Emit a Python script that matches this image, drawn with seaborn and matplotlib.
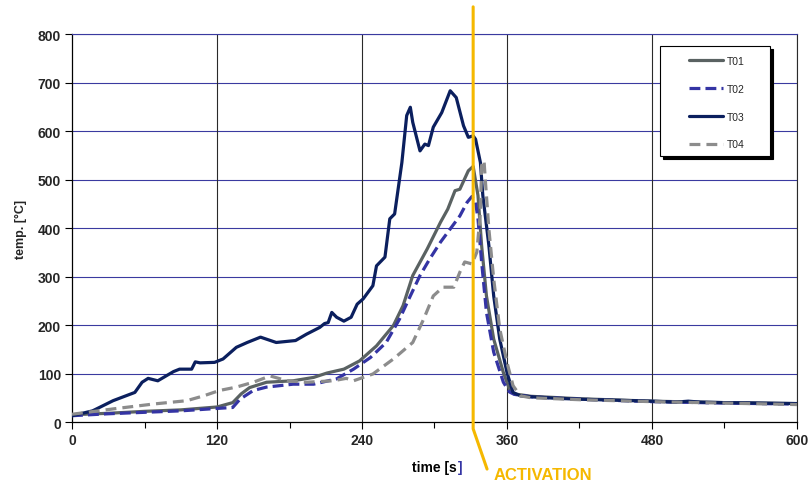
import matplotlib
matplotlib.use("Agg")
import matplotlib.pyplot as plt
import matplotlib.transforms as mtransforms
from matplotlib.patches import Rectangle
import seaborn as sns
import pandas as pd
from matplotlib.ticker import MultipleLocator

# ---- data ----
t01_t = [0,30,60,90,120,133,140,147,161,183,200,211,225,238,252,266,274,282,294,305,311,317,321,328,332,336,339,343,349,357,362,366,380,420,480,540,600]
t01_v = [15,18,22,25,31,40,58,71,82,85,92,101,109,126,157,199,240,302,357,412,439,477,480,518,527,467,364,260,171,102,68,58,53,48,43,40,38]

t02_t = [0,30,60,90,120,133,139,150,161,183,200,219,233,247,260,271,280,288,296,305,313,321,327,331,334,336,339,343,349,357,362,366,380,420,480,540,600]
t02_v = [13,17,20,23,28,30,47,65,72,78,78,89,109,133,164,212,260,302,336,371,398,425,453,465,453,419,330,226,144,82,62,57,52,47,42,39,37]

t03_t = [0,17,34,52,58,63,71,84,89,99,102,106,118,125,136,145,156,169,185,194,205,209,212,215,219,225,231,236,241,249,252,259,263,267,273,277,280,282,288,292,295,299,306,313,318,324,328,332,334,338,340,345,349,354,360,365,371,380,400,420,450,480,500,510,520,540,570,600]
t03_v = [13,23,44,61,82,90,85,104,109,109,124,122,123,130,154,164,175,164,168,181,195,203,205,226,216,208,216,243,254,281,322,340,419,429,535,632,649,618,559,573,570,608,638,683,669,611,587,590,583,535,467,364,260,171,102,61,54,52,49,47,45,43,41,43,41,40,39,38]

t04_t = [0,34,67,95,109,122,136,150,164,178,194,216,227,233,249,266,282,291,299,307,316,321,325,331,335,338,339,341,342,345,349,354,360,365,371,380,420,480,540,600]
t04_v = [16,27,37,44,54,65,72,82,95,85,82,85,90,85,99,130,164,212,260,278,278,309,330,326,350,432,529,539,501,398,295,192,123,75,54,50,46,42,39,36]

series_names = ["T01", "T02", "T03", "T04"]
x_ticks = [0, 120, 240, 360, 480, 600]
y_ticks = [0, 100, 200, 300, 400, 500, 600, 700, 800]
activation_time = 332

sns.set_theme(style="white")
plt.rcParams["font.family"] = ["Liberation Sans", "DejaVu Sans"]

fig = plt.figure(figsize=(8.11, 4.85), dpi=100)
ax = fig.add_axes([0.0888, 0.1278, 0.8939, 0.8])

frames = []
for name, tt, vv in zip(series_names, [t01_t, t02_t, t03_t, t04_t], [t01_v, t02_v, t03_v, t04_v]):
    frames.append(pd.DataFrame({"time": tt, "temp": vv, "sensor": name}))
df = pd.concat(frames, ignore_index=True)

styles = {
    "T01": dict(color="#5a6262", dashes=None),
    "T02": dict(color="#3434a4", dashes=(3.4, 1.6)),
    "T03": dict(color="#0b1f5e", dashes=None),
    "T04": dict(color="#8c8c8c", dashes=(3.4, 1.9)),
}

# grid
for yv in y_ticks[1:]:
    ax.axhline(yv, color="#3a3aa0", lw=0.8, zorder=1)
for xv in x_ticks[1:]:
    ax.axvline(xv, color="#2a2a2a", lw=0.8, zorder=1)

for name in series_names:
    sub = df[df["sensor"] == name]
    st = styles[name]
    sns.lineplot(data=sub, x="time", y="temp", ax=ax, color=st["color"], lw=2.3,
                 estimator=None, sort=False, label=name, zorder=3)
    line = ax.lines[-1]
    if st["dashes"] is not None:
        line.set_dashes(st["dashes"])
    line.set_solid_capstyle("round")
    line.set_dash_capstyle("butt")

ax.set_xlim(0, 600)
ax.set_ylim(0, 800)
ax.set_xticks(x_ticks)
ax.set_yticks(y_ticks)
ax.xaxis.set_minor_locator(MultipleLocator(60))
ax.tick_params(axis="both", which="major", direction="out", length=5, width=0.8,
               color="black", labelsize=10, bottom=True, left=True, pad=3)
ax.tick_params(axis="x", which="minor", direction="out", length=4, width=0.8,
               color="black", bottom=True)
for lab in ax.get_xticklabels() + ax.get_yticklabels():
    lab.set_fontweight("bold")

for side in ["left", "bottom"]:
    ax.spines[side].set_color("black")
    ax.spines[side].set_linewidth(0.9)
ax.spines["top"].set_color("#3a3aa0")
ax.spines["top"].set_linewidth(0.8)
ax.spines["right"].set_color("#2a2a2a")
ax.spines["right"].set_linewidth(0.8)

ax.set_xlabel("")
ax.set_ylabel("temp. [°C]", fontsize=9, fontweight="bold", labelpad=8)

# x label: "time [s" in black, "]" in blue
xl = ax.text(0.4695, -0.116, "time [s", transform=ax.transAxes, fontsize=10,
             fontweight="bold", color="black", ha="left", va="center")
ax.annotate("]", xy=(1, 0), xycoords=xl, xytext=(0.3, 0), textcoords="offset points",
            fontsize=10, fontweight="bold", color="#3434a4", ha="left", va="bottom")

# activation marker
ax.plot([activation_time, activation_time, 343.5], [856, -14, -97], color="#f5b800",
        lw=2.2, clip_on=False, zorder=5, solid_joinstyle="miter")
ax.text(348.5, -109, "ACTIVATION", color="#f5b800", fontsize=12, fontweight="bold",
        ha="left", va="center", clip_on=False)

# legend frame with shadow
lx0, lx1, ly0, ly1 = 0.811, 0.963, 0.686, 0.970
shadow_tr = mtransforms.offset_copy(ax.transAxes, fig=fig, x=3, y=-3, units="dots")
ax.add_patch(Rectangle((lx0, ly0), lx1 - lx0, ly1 - ly0, transform=shadow_tr,
                       facecolor="black", edgecolor="black", lw=0.8, zorder=6, clip_on=False))
ax.add_patch(Rectangle((lx0, ly0), lx1 - lx0, ly1 - ly0, transform=ax.transAxes,
                       facecolor="white", edgecolor="black", lw=0.8, zorder=6.5, clip_on=False))

leg = ax.legend(loc="upper left", bbox_to_anchor=(0.851, 0.943), borderaxespad=0,
                borderpad=0, fontsize=7.5, handlelength=3.26, labelspacing=1.7,
                handletextpad=0.4, frameon=False)
leg.set_zorder(7)

fig.savefig("out.png", dpi=100)
